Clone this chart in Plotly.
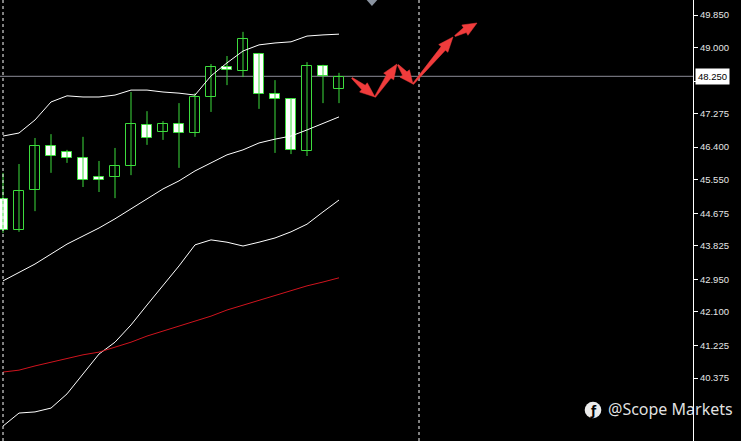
import math
import plotly.graph_objects as go

# ---------------- data ----------------
bar_index = list(range(22))
open_ = [45.05, 44.24, 45.28, 46.43, 46.27, 46.12, 45.62, 45.62, 45.91, 46.98, 46.80,
         47.00, 46.77, 47.71, 48.49, 48.39, 48.83, 47.79, 47.66, 46.30, 48.52, 47.92]
high = [45.73, 45.96, 46.64, 46.74, 46.33, 46.67, 46.04, 46.38, 47.84, 47.34, 47.08,
        47.55, 47.81, 48.57, 48.78, 49.41, 48.86, 48.15, 47.66, 48.62, 48.55, 48.34]
low = [44.16, 44.19, 44.73, 45.73, 45.99, 45.36, 45.23, 45.07, 45.67, 46.46, 46.59,
       45.86, 46.67, 47.32, 48.02, 48.23, 47.40, 46.25, 46.22, 46.17, 47.55, 47.55]
close = [44.24, 45.26, 46.43, 46.17, 46.12, 45.54, 45.54, 45.91, 47.00, 46.64, 47.00,
         46.77, 47.71, 48.49, 48.41, 49.22, 47.79, 47.66, 46.33, 48.52, 48.26, 48.23]

bb_upper = [46.69, 46.77, 47.11, 47.58, 47.74, 47.71, 47.71, 47.76, 47.89, 47.89, 47.84,
            47.81, 47.76, 48.26, 48.60, 48.91, 49.07, 49.12, 49.15, 49.30, 49.33, 49.35]
bb_middle = [42.91, 43.12, 43.35, 43.61, 43.87, 44.08, 44.29, 44.53, 44.79, 45.07, 45.31,
             45.52, 45.78, 45.99, 46.20, 46.33, 46.51, 46.61, 46.69, 46.85, 47.03, 47.19]
bb_lower = [39.12, 39.46, 39.49, 39.59, 39.96, 40.48, 41.00, 41.31, 41.76, 42.28, 42.78,
            43.30, 43.85, 43.98, 43.92, 43.82, 43.92, 44.03, 44.19, 44.39, 44.71, 45.02]
ma_red = [40.53, 40.58, 40.69, 40.79, 40.87, 40.98, 41.05, 41.18, 41.31, 41.47, 41.60,
          41.71, 41.86, 41.99, 42.15, 42.28, 42.41, 42.54, 42.67, 42.78, 42.88, 42.99]

current_price = 48.25
price_ticks = [49.850, 49.000, 48.125, 47.275, 46.400, 45.550, 44.675,
               43.825, 42.950, 42.100, 41.225, 40.375]
separator_bars = [0, 26]
marker_bar = 23.06

# projected path arrows (bar index / price)
arrow_tail_x = [21.81, 23.25, 24.6875, 25.625, 28.25]
arrow_tail_y = [48.206, 47.71, 48.545, 48.049, 49.302]
arrow_head_x = [23.25, 24.625, 25.625, 28.125, 29.625]
arrow_head_y = [47.71, 48.571, 48.049, 49.276, 49.641]

watermark = "@Scope Markets"

# ---------------- styling ----------------
GREEN = "#3ddc3d"
RED_ARROW = "#f03c3c"
W, H = 741, 441
PLOT_W = 693
X_RANGE = [-0.1875, 43.125]
Y_RANGE = [38.7306, 50.2415]
PX_PER_X = PLOT_W / (X_RANGE[1] - X_RANGE[0])
PX_PER_Y = H / (Y_RANGE[1] - Y_RANGE[0])

fig = go.Figure()

# wicks
wx, wy = [], []
for i, h, l in zip(bar_index, high, low):
    wx += [i, i, None]
    wy += [l, h, None]
fig.add_trace(go.Scatter(x=wx, y=wy, mode="lines",
                         line=dict(color=GREEN, width=1), hoverinfo="skip",
                         showlegend=False))

# bodies
base = [min(o, c) for o, c in zip(open_, close)]
size = [abs(c - o) for o, c in zip(open_, close)]
fills = ["#000000" if c > o else "#ffffff" for o, c in zip(open_, close)]
fig.add_trace(go.Bar(x=bar_index, y=size, base=base, width=0.62,
                     marker=dict(color=fills, line=dict(color=GREEN, width=1)),
                     showlegend=False, hoverinfo="skip"))

# bands and MA
for series, col in [(bb_upper, "#ffffff"), (bb_middle, "#ffffff"),
                    (bb_lower, "#ffffff"), (ma_red, "#d0141e")]:
    fig.add_trace(go.Scatter(x=bar_index, y=series, mode="lines",
                             line=dict(color=col, width=1), showlegend=False,
                             hoverinfo="skip"))

shapes = []
# current price line
shapes.append(dict(type="line", xref="paper", yref="y", x0=0, x1=1,
                   y0=current_price, y1=current_price,
                   line=dict(color="#8c8c98", width=1), layer="below"))
# separators
for s in separator_bars:
    shapes.append(dict(type="line", xref="x", yref="paper", x0=s, x1=s, y0=0, y1=1,
                       line=dict(color="#ffffff", width=1, dash="3px,3px")))
# small marker triangle at top
shapes.append(dict(type="path", xref="x", yref="paper",
                   path=f"M {marker_bar-0.33} 1 L {marker_bar+0.33} 1 L {marker_bar} {1-6/H} Z",
                   fillcolor="#8a93a0", line=dict(width=0)))


# tapered arrows built from tail/head data points
def tapered_arrow(tx, ty, hx, hy, head_len=15.0, head_half=6.0, shaft_half=2.8):
    ax, ay = tx * PX_PER_X, ty * PX_PER_Y
    bx, by = hx * PX_PER_X, hy * PX_PER_Y
    dx, dy = bx - ax, by - ay
    L = math.hypot(dx, dy)
    ux, uy = dx / L, dy / L
    nx, ny = -uy, ux
    hl = min(head_len, L * 0.55)
    cx_, cy_ = bx - ux * hl, by - uy * hl
    pts = [
        (ax + nx * 0.6, ay + ny * 0.6),
        (cx_ + nx * shaft_half, cy_ + ny * shaft_half),
        (cx_ + nx * head_half, cy_ + ny * head_half),
        (bx, by),
        (cx_ - nx * head_half, cy_ - ny * head_half),
        (cx_ - nx * shaft_half, cy_ - ny * shaft_half),
        (ax - nx * 0.6, ay - ny * 0.6),
    ]
    d = "M " + " L ".join(f"{px / PX_PER_X:.5f} {py / PX_PER_Y:.5f}" for px, py in pts) + " Z"
    return dict(type="path", xref="x", yref="y", path=d,
                fillcolor=RED_ARROW, line=dict(color=RED_ARROW, width=0.5))


for tx, ty, hx, hy in zip(arrow_tail_x, arrow_tail_y, arrow_head_x, arrow_head_y):
    shapes.append(tapered_arrow(tx, ty, hx, hy))

# watermark logo circle
lcx, lcy, r = 593, 410, 8.3
shapes.append(dict(type="circle", xref="paper", yref="paper",
                   x0=(lcx - r) / PLOT_W, x1=(lcx + r) / PLOT_W,
                   y0=1 - (lcy + r) / H, y1=1 - (lcy - r) / H,
                   fillcolor="rgba(255,255,255,0.92)", line=dict(width=0)))

annotations = []
# current price label
annotations.append(dict(x=1 + 2 / PLOT_W, y=current_price, xref="paper", yref="y",
                        xanchor="left", yanchor="middle", showarrow=False,
                        text=f"{current_price:.3f}", bgcolor="#ffffff",
                        font=dict(color="#000000", size=9.5, family="Liberation Sans"),
                        borderpad=2))
# watermark
annotations.append(dict(x=lcx / PLOT_W, y=1 - (lcy + 0.5) / H, xref="paper", yref="paper",
                        xanchor="center", yanchor="middle", showarrow=False,
                        text="<b>ƒ</b>", font=dict(color="#000000", size=12,
                                                 family="DejaVu Sans")))
annotations.append(dict(x=606 / PLOT_W, y=1 - 409 / H, xref="paper", yref="paper",
                        xanchor="left", yanchor="middle", showarrow=False,
                        text=watermark,
                        font=dict(color="rgba(240,240,240,0.95)", size=16,
                                  family="Noto Sans")))

fig.update_layout(
    width=W, height=H,
    margin=dict(l=0, r=W - PLOT_W, t=0, b=0),
    paper_bgcolor="#000000", plot_bgcolor="#000000",
    barmode="overlay", bargap=0,
    showlegend=False,
    shapes=shapes, annotations=annotations,
    xaxis=dict(range=X_RANGE, showgrid=False, zeroline=False,
               showticklabels=False, ticks="", showline=False, fixedrange=True),
    yaxis=dict(range=Y_RANGE, side="right", showgrid=False,
               zeroline=False, tickvals=price_ticks, tickformat=".3f",
               ticks="outside", ticklen=4, tickcolor="#ffffff",
               showline=True, linecolor="#ffffff", linewidth=1,
               tickfont=dict(color="#e6e6e6", size=9.5, family="Liberation Sans")),
)

fig.write_html("out.html", config={"displayModeBar": False},
               post_script="document.body.style.margin='0';"
                           "document.body.style.background='#000';")
